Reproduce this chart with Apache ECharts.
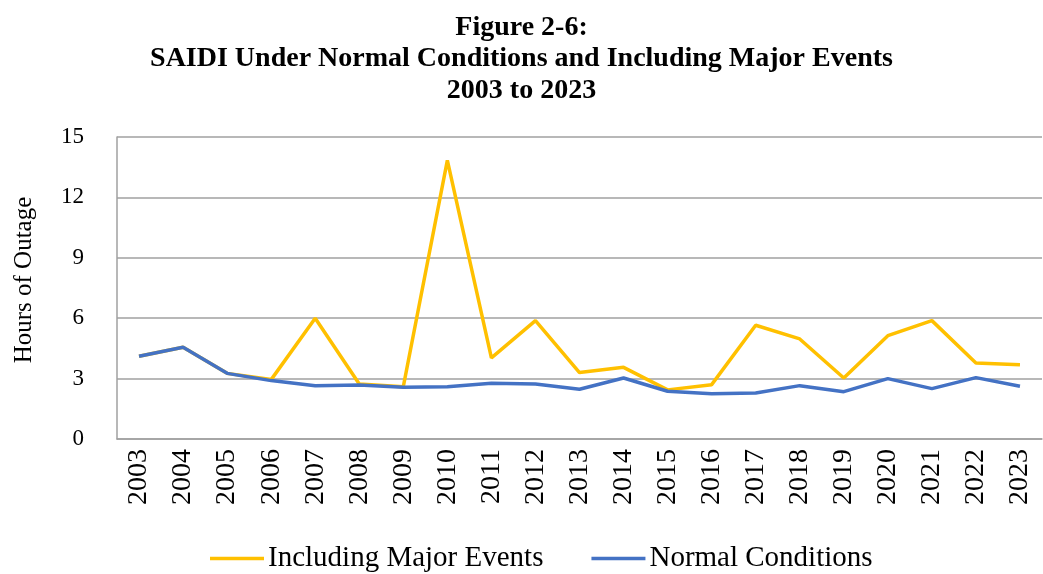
<!DOCTYPE html>
<html>
<head>
<meta charset="utf-8">
<script src="https://cdn.jsdelivr.net/npm/echarts@6/dist/echarts.min.js"></script>
<style>
  html, body { margin: 0; padding: 0; background: #fff; }
  #chart { width: 1043px; height: 574px; }
</style>
</head>
<body>
<div id="chart"></div>
<script>
// 年份
const years = ['2003', '2004', '2005', '2006', '2007', '2008', '2009', '2010', '2011', '2012', '2013',
  '2014', '2015', '2016', '2017', '2018', '2019', '2020', '2021', '2022', '2023']

// 含重大事件
const majorEvents = [4.11, 4.56, 3.26, 2.95, 6.0, 2.73, 2.6, 13.84, 4.03, 5.88, 3.3,
  3.56, 2.44, 2.7, 5.65, 4.97, 3.03, 5.13, 5.88, 3.77, 3.69]

// 正常情况
const normalConditions = [4.11, 4.56, 3.26, 2.9, 2.65, 2.68, 2.57, 2.6, 2.77, 2.73, 2.47,
  3.03, 2.37, 2.25, 2.28, 2.65, 2.35, 3.0, 2.5, 3.05, 2.62]

const serif = 'Liberation Serif'
const chart = echarts.init(document.getElementById('chart'))

chart.setOption({
  animation: false,
  title: {
    text: 'Figure 2-6:\nSAIDI Under Normal Conditions and Including Major Events\n2003 to 2023',
    left: 'center',
    top: 7,
    textStyle: { fontFamily: serif, fontWeight: 'bold', fontSize: 28, lineHeight: 31.5, color: '#000' },
  },
  grid: { left: 117, right: 1, top: 137, bottom: 135 },
  legend: {
    bottom: -4,
    left: 205,
    itemWidth: 54,
    itemHeight: 3.5,
    itemGap: 48,
    icon: 'rect',
    textStyle: { fontFamily: serif, fontSize: 29, color: '#000', padding: [0, 0, 0, -1] },
    data: ['Including Major Events', 'Normal Conditions'],
  },
  xAxis: {
    type: 'category',
    data: years,
    boundaryGap: true,
    axisLine: { lineStyle: { color: '#a0a0a0', width: 1.5 } },
    axisTick: { show: false },
    axisLabel: { rotate: 90, fontFamily: serif, fontSize: 28, color: '#000', margin: 10 },
  },
  yAxis: {
    type: 'value',
    min: 0,
    max: 15,
    interval: 3,
    name: 'Hours of Outage',
    nameLocation: 'middle',
    nameGap: 80,
    nameTextStyle: { fontFamily: serif, fontSize: 25, color: '#000', padding: [0, 0, 0, 16] },
    axisLine: { show: true, lineStyle: { color: '#a0a0a0', width: 1.5 } },
    axisTick: { show: false },
    axisLabel: { fontFamily: serif, fontSize: 23, color: '#000', margin: 33 },
    splitLine: { lineStyle: { color: '#a0a0a0', width: 1.5 } },
  },
  series: [
    {
      name: 'Including Major Events',
      type: 'line',
      data: majorEvents,
      symbol: 'none',
      lineStyle: { color: '#ffc000', width: 3.5 },
      itemStyle: { color: '#ffc000' },
    },
    {
      name: 'Normal Conditions',
      type: 'line',
      data: normalConditions,
      symbol: 'none',
      lineStyle: { color: '#4472c4', width: 3.5 },
      itemStyle: { color: '#4472c4' },
    },
  ],
})
</script>
</body>
</html>
